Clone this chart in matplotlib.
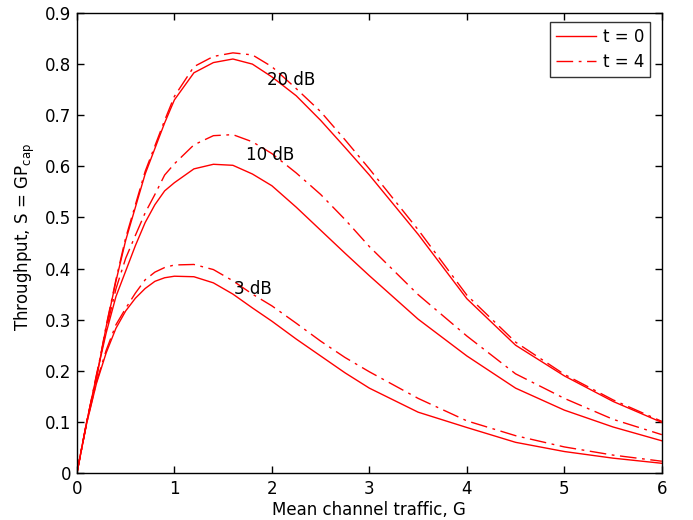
import matplotlib
matplotlib.use("Agg")
import matplotlib.pyplot as plt

G = [0, 0.1, 0.2, 0.3, 0.4, 0.5, 0.6, 0.7, 0.8, 0.9, 1.0, 1.2, 1.4, 1.6, 1.8, 2.0,
     2.25, 2.5, 2.75, 3.0, 3.5, 4.0, 4.5, 5.0, 5.5, 6.0]

s3_t0 = [0, 0.097, 0.175, 0.235, 0.283, 0.317, 0.342, 0.361, 0.375, 0.382, 0.385, 0.384, 0.372, 0.350, 0.323, 0.297,
         0.262, 0.229, 0.196, 0.166, 0.119, 0.089, 0.060, 0.042, 0.029, 0.019]
s3_t4 = [0, 0.098, 0.178, 0.240, 0.290, 0.322, 0.352, 0.378, 0.393, 0.402, 0.407, 0.408, 0.398, 0.376, 0.350, 0.327,
         0.293, 0.258, 0.226, 0.198, 0.146, 0.102, 0.073, 0.051, 0.035, 0.023]
s10_t0 = [0, 0.099, 0.190, 0.274, 0.345, 0.395, 0.445, 0.490, 0.525, 0.552, 0.568, 0.595, 0.604, 0.602, 0.585, 0.562,
          0.520, 0.475, 0.430, 0.386, 0.301, 0.229, 0.166, 0.123, 0.090, 0.063]
s10_t4 = [0, 0.099, 0.192, 0.280, 0.360, 0.420, 0.465, 0.509, 0.545, 0.583, 0.605, 0.642, 0.660, 0.662, 0.648, 0.625,
          0.587, 0.545, 0.496, 0.443, 0.349, 0.268, 0.194, 0.146, 0.105, 0.075]
s20_t0 = [0, 0.100, 0.185, 0.286, 0.375, 0.455, 0.520, 0.585, 0.635, 0.685, 0.730, 0.783, 0.803, 0.810, 0.800, 0.775,
          0.738, 0.690, 0.637, 0.583, 0.467, 0.341, 0.250, 0.190, 0.140, 0.099]
s20_t4 = [0, 0.100, 0.186, 0.288, 0.378, 0.460, 0.525, 0.590, 0.640, 0.690, 0.737, 0.795, 0.815, 0.822, 0.818, 0.795,
          0.752, 0.707, 0.652, 0.595, 0.476, 0.348, 0.256, 0.193, 0.143, 0.101]

snr_labels = ["20 dB", "10 dB", "3 dB"]
snr_label_pos = [(2.195, 0.769), (1.98, 0.622), (1.80, 0.360)]
legend_labels = ["t = 0", "t = 4"]

xticks = [0, 1, 2, 3, 4, 5, 6]
yticks = [0, 0.1, 0.2, 0.3, 0.4, 0.5, 0.6, 0.7, 0.8, 0.9]

plt.rcParams['font.family'] = ['DejaVu Sans']

fig = plt.figure(figsize=(6.93, 5.2), dpi=100)
ax = fig.add_axes([0.111, 0.0904, 0.844, 0.8846])

red = '#ff0000'
dd = (0, (12, 4, 2, 4))
l1, = ax.plot(G, s3_t0, color=red, lw=1.0, ls='-')
l2, = ax.plot(G, s3_t4, color=red, lw=1.0, ls=dd)
ax.plot(G, s10_t0, color=red, lw=1.0, ls='-')
ax.plot(G, s10_t4, color=red, lw=1.0, ls=dd)
ax.plot(G, s20_t0, color=red, lw=1.0, ls='-')
ax.plot(G, s20_t4, color=red, lw=1.0, ls=dd)

for lab, (x, y) in zip(snr_labels, snr_label_pos):
    ax.text(x, y, lab, fontsize=12, ha='center', va='center', color='black')

ax.set_xlim(0, 6)
ax.set_ylim(0, 0.9)
ax.set_xticks(xticks)
ax.set_xticklabels([str(t) for t in xticks])
ax.set_yticks(yticks)
ax.set_yticklabels(['0'] + [f'{t:.1f}' for t in yticks[1:]])
ax.tick_params(direction='in', top=True, right=True, labelsize=12, length=5, width=1)
ax.tick_params(axis='x', pad=5)
ax.tick_params(axis='y', pad=4)
for sp in ax.spines.values():
    sp.set_linewidth(1.0)

ax.set_xlabel('Mean channel traffic, G', fontsize=12, labelpad=2)
ax.set_ylabel(r'Throughput, S = GP$_{\mathrm{cap}}$', fontsize=12)
ax.yaxis.set_label_coords(-0.068, 0.514)

leg = ax.legend([l1, l2], legend_labels, loc='upper right', fontsize=12,
                frameon=True, fancybox=False, edgecolor='black',
                handlelength=2.4, handletextpad=0.4, borderpad=0.35,
                labelspacing=0.45,
                bbox_to_anchor=(650 / 693, 1 - 22 / 520),
                bbox_transform=fig.transFigure, borderaxespad=0)
leg.get_frame().set_linewidth(1.0)

fig.savefig('out.png', dpi=100)
